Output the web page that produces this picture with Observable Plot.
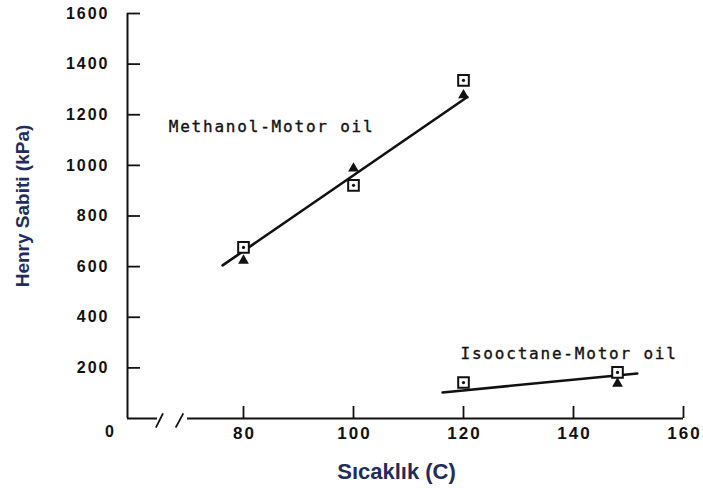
<!DOCTYPE html>
<html>
<head>
<meta charset="utf-8">
<script src="https://cdn.jsdelivr.net/npm/d3@7"></script>
<script src="https://cdn.jsdelivr.net/npm/@observablehq/plot@0.6"></script>
<style>
  html, body { margin: 0; padding: 0; background: #fff; }
  #chart svg { display: block; background: #fff; }
</style>
</head>
<body>
<div id="chart"></div>
<script>
// Henry constants of methanol and isooctane in motor oil vs temperature
const xTicks = [80, 100, 120, 140, 160];
const yTicks = [200, 400, 600, 800, 1000, 1200, 1400, 1600];

// Methanol–Motor oil
const methanolTemp = [80, 100, 120];
const methanolSquare = [676, 921, 1336];
const methanolTriangle = [624, 988, 1277];
const methanolFitTemp = [76.2, 120.7];
const methanolFitH = [605, 1270];

// Isooctane–Motor oil
const isoSquareTemp = [120, 148];
const isoSquare = [142, 182];
const isoTriangleTemp = [148];
const isoTriangle = [138];
const isoFitTemp = [116.2, 151.6];
const isoFitH = [103, 178];

const curveLabels = [
  {text: "Methanol-Motor oil", t: 66.4, h: 1154},
  {text: "Isooctane-Motor oil", t: 119.45, h: 257}
];

// layout
const W = 703, H = 488;
const mL = 127, mR = 20, mT = 13, mB = 70;
const xMax = 160;
const pxPerDeg = 5.5;
const xMin = 80 - (243 - mL) / pxPerDeg;        // left end of the broken axis
const yMax = 1600;
const pxPerKPa = (H - mT - mB) / yMax;
const brkA = xMin + 30 / pxPerDeg;               // axis break
const brkB = xMin + 60 / pxPerDeg;

const pts = (ts, hs) => ts.map((t, i) => ({t, h: hs[i]}));
const ink = "#111";
const tickFont = "Liberation Sans, Arial, sans-serif";
const titleFont = "Arial, Helvetica, sans-serif";
const plotFont = "DejaVu Sans Mono, monospace";
const navy = "#1f2d5c";

const slashes = [
  {x1: brkA - 0.3, y1: -36, x2: brkA + 1.0, y2: 20},
  {x1: brkA + 3.3, y1: -36, x2: brkA + 4.7, y2: 20}
];

const chart = Plot.plot({
  width: W, height: H,
  marginLeft: mL, marginRight: mR, marginTop: mT, marginBottom: mB,
  x: {domain: [xMin, xMax], axis: null},
  y: {domain: [0, yMax], axis: null},
  marks: [
    // axes
    Plot.ruleX([xMin], {y1: 0, y2: yMax, stroke: ink, strokeWidth: 2}),
    Plot.ruleY([0], {x1: xMin, x2: brkA, stroke: ink, strokeWidth: 2}),
    Plot.ruleY([0], {x1: brkB, x2: xMax, stroke: ink, strokeWidth: 2}),
    Plot.link(slashes, {x1: "x1", y1: "y1", x2: "x2", y2: "y2", stroke: ink, strokeWidth: 1.8}),
    Plot.ruleY(yTicks, {y: d => d, x1: xMin, x2: xMin + 13 / pxPerDeg, stroke: ink, strokeWidth: 1.8}),
    Plot.ruleX(xTicks, {x: d => d, y1: 0, y2: 12 / pxPerKPa, stroke: ink, strokeWidth: 1.8}),
    Plot.text(yTicks, {x: xMin, y: d => d, text: d => String(d), dx: -18, textAnchor: "end",
      fontFamily: tickFont, fontWeight: "bold", fontSize: 16, fill: ink}),
    Plot.text(xTicks, {x: d => d, y: 0, text: d => String(d), dx: 1, dy: 15,
      fontFamily: tickFont, fontWeight: "bold", fontSize: 17, fill: ink}),
    Plot.text(["0"], {x: xMin, y: 0, text: d => d, dx: -17, dy: 13,
      fontFamily: tickFont, fontWeight: "bold", fontSize: 16, fill: ink}),
    // axis titles
    Plot.text(["Henry Sabiti (kPa)"], {frameAnchor: "left", text: d => d, rotate: -90,
      textAnchor: "middle", lineAnchor: "middle",
      dx: -105, dy: -10, fontFamily: titleFont, fontWeight: "bold", fontSize: 19, fill: navy}),
    Plot.text(["Sıcaklık (C)"], {frameAnchor: "bottom", text: d => d,
      textAnchor: "middle", lineAnchor: "middle",
      dx: -9, dy: 53, fontFamily: titleFont, fontWeight: "bold", fontSize: 22, fill: navy}),
    // fitted lines
    Plot.line(pts(methanolFitTemp, methanolFitH), {x: "t", y: "h", stroke: ink, strokeWidth: 2.6}),
    Plot.line(pts(isoFitTemp, isoFitH), {x: "t", y: "h", stroke: ink, strokeWidth: 2.6}),
    // measurements
    Plot.dot(pts(methanolTemp, methanolSquare), {x: "t", y: "h", symbol: "square", r: 6, stroke: ink, strokeWidth: 2, fill: "white"}),
    Plot.dot(pts(isoSquareTemp, isoSquare), {x: "t", y: "h", symbol: "square", r: 6, stroke: ink, strokeWidth: 2, fill: "white"}),
    Plot.dot(pts(methanolTemp, methanolSquare), {x: "t", y: "h", r: 1.6, fill: ink}),
    Plot.dot(pts(isoSquareTemp, isoSquare), {x: "t", y: "h", r: 1.6, fill: ink}),
    Plot.dot(pts(methanolTemp, methanolTriangle), {x: "t", y: "h", symbol: "triangle", r: 4, fill: ink}),
    Plot.dot(pts(isoTriangleTemp, isoTriangle), {x: "t", y: "h", symbol: "triangle", r: 4, fill: ink}),
    // curve labels
    Plot.text(curveLabels, {x: "t", y: "h", text: "text", textAnchor: "start",
      fontFamily: plotFont, fontSize: 16, fill: ink, stroke: ink, strokeWidth: 0.35})
  ]
});

d3.select(chart).selectAll("g[font-family^='Liberation Sans']").attr("letter-spacing", "2px");
d3.select(chart).selectAll("g[font-family^='DejaVu Sans Mono']").attr("letter-spacing", "1.8px");
document.getElementById("chart").append(chart);
</script>
</body>
</html>
